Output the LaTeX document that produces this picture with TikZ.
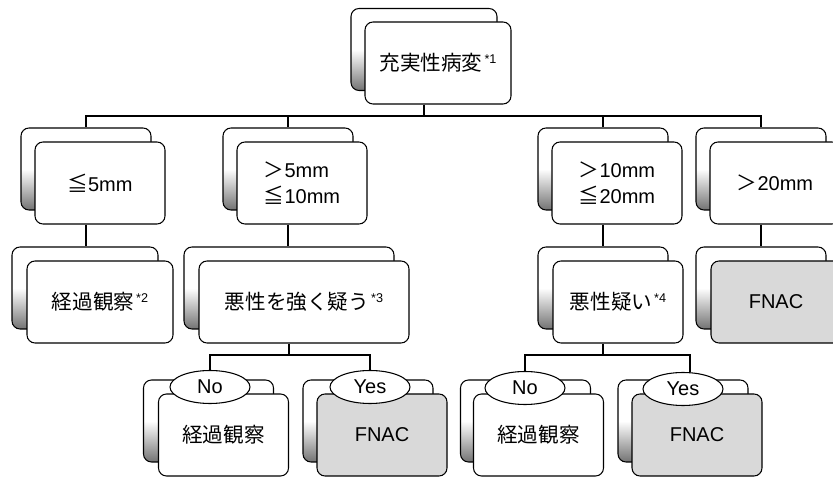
\documentclass[tikz,border=0pt]{standalone}
\usepackage{fontspec}
\setmainfont{Liberation Sans}
\newfontfamily\jp{Noto Sans CJK JP}[Scale=1.03]
\usetikzlibrary{shapes.geometric}
\newcommand{\nt}[1]{\kern1.5pt{\fontsize{9.5}{10}\selectfont\raisebox{5.5pt}{#1}}}
\tikzset{
  card/.style={draw, line width=0.8pt, rounded corners=6pt, minimum height=61.5pt, inner sep=0pt},
  backcard/.style={card, top color=white, bottom color=black!55, middle color=white},
  frontcard/.style={card, fill=white, align=center},
  graycard/.style={card, fill=black!15},
  cw/.style={minimum width=#1*0.75pt},
  answer/.style={ellipse, draw, line width=0.8pt, fill=white, minimum width=60pt, minimum height=24.75pt, inner sep=0pt},
  conn/.style={line width=1.6pt}
}
\begin{document}
\begin{tikzpicture}[x=0.75pt,y=-0.75pt,font=\fontsize{15}{20}\selectfont]
\clip (0,0) rectangle (833,477);
% level 1
\node[backcard, cw=146] (b0) at (424,49.5) {};
\node[frontcard, cw=146] (f0) at (438,63) {{\jp 充実性病変}\nt{*1}};
% level 2
\node[backcard, cw=130] (b1) at (86,169) {};
\node[frontcard, cw=130] (f1) at (100,183) {{\jp ≦}5mm};
\node[backcard, cw=130] (b2) at (288,169) {};
\node[frontcard, cw=130, align=left] (f2) at (302,183) {{\jp ＞}5mm\\{\jp ≦}10mm};
\node[backcard, cw=130] (b3) at (603,169) {};
\node[frontcard, cw=130, align=left] (f3) at (617,183) {{\jp ＞}10mm\\{\jp ≦}20mm};
\node[backcard, cw=130] (b4) at (761,169) {};
\node[frontcard, cw=130] (f4) at (775,183) {{\jp ＞}20mm};
% level 3
\node[backcard, cw=146] (b5) at (85,288) {};
\node[frontcard, cw=146] (f5) at (100,302) {{\jp 経過観察}\nt{*2}};
\node[backcard, cw=210] (b6) at (289,288) {};
\node[frontcard, cw=210] (f6) at (304,302) {{\jp 悪性を強く疑う}\nt{*3}};
\node[backcard, cw=130] (b7) at (603,288) {};
\node[frontcard, cw=130] (f7) at (618,302) {{\jp 悪性疑い}\nt{*4}};
\node[backcard, cw=130] (b8) at (761,288) {};
\node[graycard, cw=130] (f8) at (776,302) {FNAC};
% level 4
\node[backcard, cw=130] (b9) at (208.5,421) {};
\node[frontcard, cw=130] (f9) at (223.5,435) {{\jp 経過観察}};
\node[backcard, cw=130] (b10) at (368,421) {};
\node[graycard, cw=130] (f10) at (382,435) {FNAC};
\node[backcard, cw=130] (b11) at (525.5,421) {};
\node[frontcard, cw=130] (f11) at (538.5,435) {{\jp 経過観察}};
\node[backcard, cw=130] (b12) at (683,421) {};
\node[graycard, cw=130] (f12) at (697,435) {FNAC};
% connectors
\coordinate (bar0) at (0,116);
\coordinate (bar6) at (0,355);
\draw[conn] (b0.south |- f0.south) -- (b0.south |- bar0) -| (b1.north);
\draw[conn] (b0.south |- bar0) -| (b2.north);
\draw[conn] (b0.south |- bar0) -| (b3.north);
\draw[conn] (b0.south |- bar0) -| (b4.north);
\draw[conn] (b1.south |- f1.south) -- (b1.south |- b5.north);
\draw[conn] (b2.south |- f2.south) -- (b2.south |- b6.north);
\draw[conn] (b3.south |- f3.south) -- (b3.south |- b7.north);
\draw[conn] (b4.south |- f4.south) -- (b4.south |- b8.north);
% answers
\node[answer] (e9) at (210,387) {No};
\node[answer] (e10) at (370,387) {Yes};
\node[answer] (e11) at (525,388) {No};
\node[answer] (e12) at (683,389) {Yes};
\draw[conn] (b6.south |- f6.south) -- (b6.south |- bar6) -| (e9.north);
\draw[conn] (b6.south |- bar6) -| (e10.north);
\draw[conn] (b7.south |- f7.south) -- (b7.south |- bar6) -| (e11.north);
\draw[conn] (b7.south |- bar6) -| ([xshift=5.25pt]e12.north);
\end{tikzpicture}
\end{document}
